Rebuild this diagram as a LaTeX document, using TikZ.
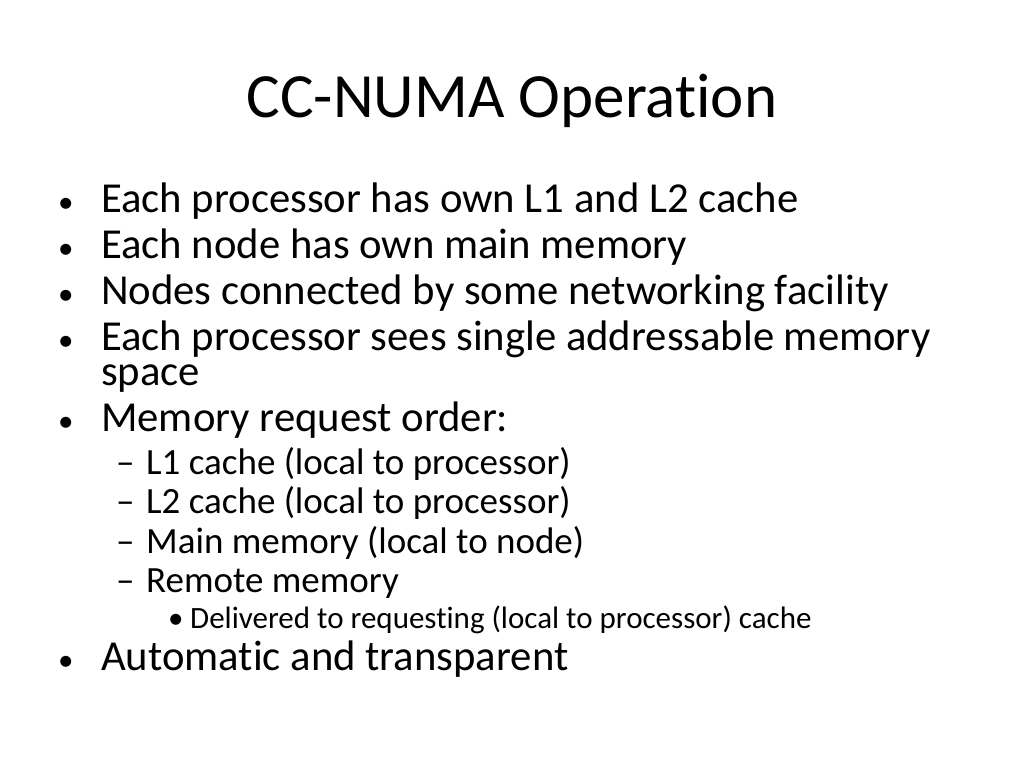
\documentclass[tikz,border=0pt]{standalone}
\usepackage{fontspec}
\setmainfont[RawFeature=-liga]{Carlito}
\usetikzlibrary{positioning}
\tikzset{
  lvlone/.style={anchor=base west,inner sep=0pt,font=\fontsize{42.7}{42.7}\selectfont},
  lvltwo/.style={anchor=base west,inner sep=0pt,font=\fontsize{37}{37}\selectfont},
  lvlthree/.style={anchor=base west,inner sep=0pt,font=\fontsize{31}{31}\selectfont}
}
\begin{document}
\begin{tikzpicture}[x=1pt,y=-1pt]
  \useasboundingbox (0,0) rectangle (1024,768);
  \node[anchor=base,inner sep=0pt,font=\fontsize{63}{63}\selectfont] (title) at (512,117) {CC-NUMA Operation};
  % first level
  \foreach \y/\t/\n in {212/Each processor has own L1 and L2 cache/a,
      258/Each node has own main memory/b,
      304/Nodes connected by some networking facility/c,
      350/Each processor sees single addressable memory/d,
      431/Memory request order:/e,
      670/Automatic and transparent/f}{
    \node[lvlone] (\n) at (101,\y) {\t};
    \node[lvlthree] (\n-dot) at (58,\y) {•};
  }
  \node[lvlone] (d2) at (101,385) {space};
  % second level
  \foreach \y/\t/\n in {474/L1 cache (local to processor)/g,
      513/L2 cache (local to processor)/h,
      553/Main memory (local to node)/i,
      592/Remote memory/j}{
    \node[lvltwo] (\n) at (146,\y) {\t};
    \node[lvltwo] (\n-dash) at (116,\y) {–};
  }
  % third level
  \node[lvlthree] (k) at (190,628) {Delivered to requesting (local to processor) cache};
  \node[lvlthree] (k-dot) at (168,628) {•};
\end{tikzpicture}
\end{document}
